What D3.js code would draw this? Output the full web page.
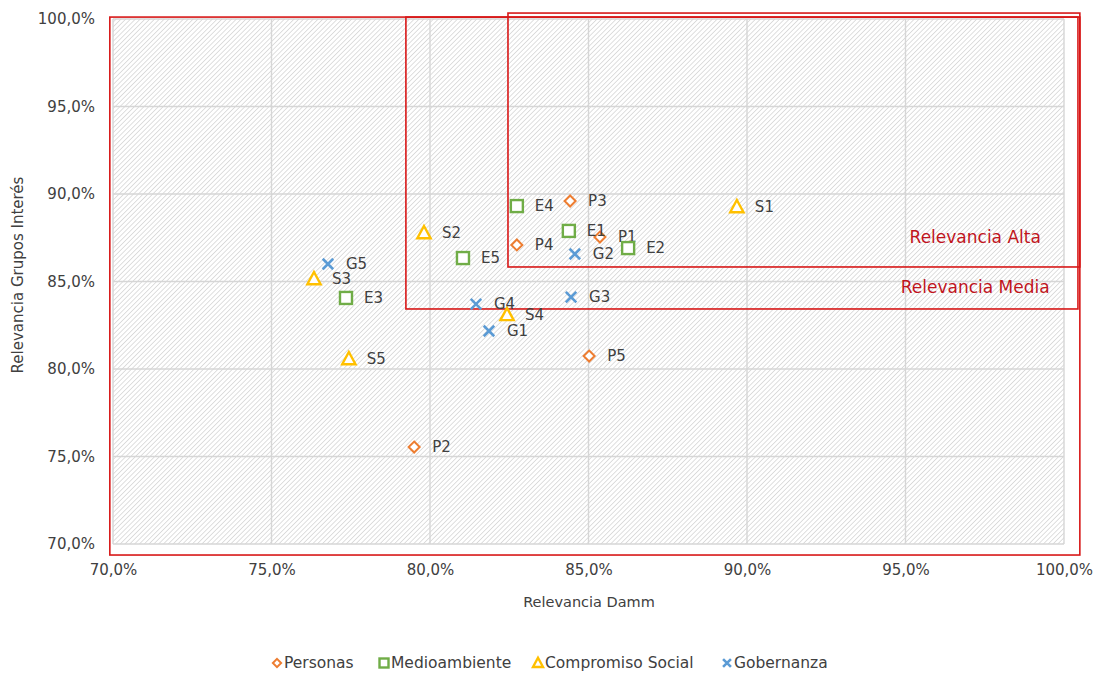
<!DOCTYPE html>
<html>
  <head>
    <meta charset="utf-8">
    <script src="https://d3js.org/d3.v7.min.js"></script>
    <title>Relevancia</title>
    <style>
      html, body { margin: 0; padding: 0; background: #fff; }
      svg { display: block; font-family: "DejaVu Sans", sans-serif; }
    </style>
  </head>
  <body>
    <svg id="chart" width="1101" height="675"></svg>
    <script>
      // datos (en %)
      var xTicks = [70, 75, 80, 85, 90, 95, 100];
      var yTicks = [70, 75, 80, 85, 90, 95, 100];

      var personasLbl = ["P1", "P2", "P3", "P4", "P5"];
      var personasX = [85.36, 79.50, 84.42, 82.74, 85.02];
      var personasY = [87.54, 75.54, 89.60, 87.09, 80.74];

      var medioLbl = ["E1", "E2", "E3", "E4", "E5"];
      var medioX = [84.38, 86.25, 77.35, 82.74, 81.04];
      var medioY = [87.89, 86.91, 84.06, 89.31, 86.34];

      var socialLbl = ["S1", "S2", "S3", "S4", "S5"];
      var socialX = [89.68, 79.81, 76.34, 82.43, 77.44];
      var socialY = [89.26, 87.77, 85.14, 83.09, 80.57];

      var gobLbl = ["G1", "G2", "G3", "G4", "G5"];
      var gobX = [81.86, 84.57, 84.45, 81.45, 76.78];
      var gobY = [82.17, 86.57, 84.11, 83.71, 86.00];

      // zonas (rectangulos rojos) en unidades de datos
      var zonaNombre = ["", "Relevancia Media", "Relevancia Alta"];
      var zonaX0 = [69.9, 79.24, 82.46];
      var zonaX1 = [100.5, 100.44, 100.5];
      var zonaY0 = [69.37, 83.43, 85.83];
      var zonaY1 = [100.11, 100.11, 100.34];
      var zonaLblX = [0, 97.2, 97.2];
      var zonaLblY = [0, 84.7, 87.55];

      var svg = d3.select("#chart");
      var pLeft = 113, pRight = 1064, pTop = 19, pBottom = 544;

      var x = d3.scaleLinear().domain([70, 100]).range([pLeft, pRight]);
      var y = d3.scaleLinear().domain([70, 100]).range([pBottom, pTop]);
      var fmt = function(v){ return d3.format(".1f")(v).replace(".", ",") + "%"; };

      // trama diagonal
      var defs = svg.append("defs");
      defs.append("pattern")
        .attr("id", "hatch")
        .attr("patternUnits", "userSpaceOnUse")
        .attr("width", 3.4).attr("height", 3.4)
        .attr("patternTransform", "rotate(45)")
        .append("line")
        .attr("x1", 0).attr("y1", 0).attr("x2", 0).attr("y2", 3.4)
        .style("stroke", "#c2c2c2").style("stroke-width", 1.05);

      svg.append("rect")
        .attr("x", pLeft).attr("y", pTop)
        .attr("width", pRight - pLeft).attr("height", pBottom - pTop)
        .style("fill", "url(#hatch)");

      // rejilla
      svg.append("g").selectAll("line").data(xTicks).enter().append("line")
        .attr("x1", d => x(d)).attr("x2", d => x(d))
        .attr("y1", pTop).attr("y2", pBottom)
        .style("stroke", "#d6d6d6").style("stroke-width", 1.4);
      svg.append("g").selectAll("line").data(yTicks).enter().append("line")
        .attr("y1", d => y(d)).attr("y2", d => y(d))
        .attr("x1", pLeft).attr("x2", pRight)
        .style("stroke", "#d6d6d6").style("stroke-width", 1.4);

      // ejes
      var xAxis = svg.append("g").attr("transform", "translate(0," + (pBottom + 16) + ")")
        .call(d3.axisBottom(x).tickValues(xTicks).tickFormat(fmt).tickSize(0));
      var yAxis = svg.append("g").attr("transform", "translate(" + (pLeft - 15) + ",0)")
        .call(d3.axisLeft(y).tickValues(yTicks).tickFormat(fmt).tickSize(0));
      [xAxis, yAxis].forEach(function(a){
        a.select(".domain").remove();
        a.selectAll("text")
          .style("font-family", "'DejaVu Sans', sans-serif")
          .style("font-size", "15px")
          .style("fill", "#404040");
      });
      xAxis.selectAll("text").attr("dy", "0.8em");

      svg.append("text")
        .attr("x", 589).attr("y", 607)
        .attr("text-anchor", "middle")
        .style("font-size", "14.5px").style("fill", "#404040")
        .text("Relevancia Damm");
      svg.append("text")
        .attr("transform", "translate(23,275) rotate(-90)")
        .attr("text-anchor", "middle")
        .style("font-size", "15px").style("fill", "#404040")
        .text("Relevancia Grupos Interés");

      // zonas
      var zonas = zonaNombre.map(function(n, i){
        return {name: n, x0: zonaX0[i], x1: zonaX1[i], y0: zonaY0[i], y1: zonaY1[i], lx: zonaLblX[i], ly: zonaLblY[i]};
      });
      svg.append("g").selectAll("rect").data(zonas).enter().append("rect")
        .attr("x", d => x(d.x0)).attr("y", d => y(d.y1))
        .attr("width", d => x(d.x1) - x(d.x0))
        .attr("height", d => y(d.y0) - y(d.y1))
        .style("fill", "none").style("stroke", "#d81818").style("stroke-width", 1.6);

      svg.append("g").selectAll("text").data(zonas.filter(d => d.name)).enter().append("text")
        .attr("x", d => x(d.lx))
        .attr("y", d => y(d.ly))
        .attr("dy", "0.35em")
        .attr("text-anchor", "middle")
        .style("font-size", "17px").style("fill", "#c0141c")
        .text(d => d.name);

      // series
      var series = [
        {name: "Personas", color: "#ED7D31", shape: "diamond", lbl: personasLbl, xs: personasX, ys: personasY},
        {name: "Medioambiente", color: "#70AD47", shape: "square", lbl: medioLbl, xs: medioX, ys: medioY},
        {name: "Compromiso Social", color: "#FFC000", shape: "triangle", lbl: socialLbl, xs: socialX, ys: socialY},
        {name: "Gobernanza", color: "#5B9BD5", shape: "cross", lbl: gobLbl, xs: gobX, ys: gobY}
      ];

      function marker(g, shape, color, s) {
        if (shape == "diamond") {
          g.append("path").attr("d", "M0," + (-s) + "L" + s + ",0L0," + s + "L" + (-s) + ",0Z")
            .style("fill", "#fff").style("stroke", color).style("stroke-width", 2);
        } else if (shape == "square") {
          g.append("rect").attr("x", -s).attr("y", -s).attr("width", 2 * s).attr("height", 2 * s)
            .style("fill", "#fff").style("stroke", color).style("stroke-width", 2.4);
        } else if (shape == "triangle") {
          g.append("path").attr("d", "M0," + (-s) + "L" + (s * 0.95) + "," + (s * 0.75) + "L" + (-s * 0.95) + "," + (s * 0.75) + "Z")
            .style("fill", "#fff").style("stroke", color).style("stroke-width", 2.4);
        } else {
          var c = s * 0.75;
          g.append("path").attr("d", "M" + (-c) + "," + (-c) + "L" + c + "," + c + "M" + c + "," + (-c) + "L" + (-c) + "," + c)
            .style("stroke", color).style("stroke-width", 2.6);
        }
      }
      var sizes = {diamond: 5.5, square: 6, triangle: 7, cross: 7};

      series.forEach(function(s){
        var pts = s.lbl.map(function(l, i){ return {lbl: l, x: s.xs[i], y: s.ys[i]}; });
        var g = svg.append("g").selectAll("g").data(pts).enter().append("g")
          .attr("transform", d => "translate(" + x(d.x) + "," + y(d.y) + ")");
        g.each(function(){ marker(d3.select(this), s.shape, s.color, sizes[s.shape]); });
        g.append("text")
          .attr("x", 18).attr("dy", "0.35em")
          .style("font-size", "15px").style("fill", "#404040")
          .text(d => d.lbl);
      });

      // leyenda
      var legX = [277, 384, 538, 727];
      var leg = svg.append("g").selectAll("g").data(series).enter().append("g")
        .attr("transform", (d, i) => "translate(" + legX[i] + ",663)");
      leg.each(function(d){ marker(d3.select(this), d.shape, d.color, sizes[d.shape] * 0.75); });
      leg.append("text")
        .attr("x", 7).attr("dy", "0.35em")
        .style("font-size", "15.5px").style("fill", "#404040")
        .text(d => d.name);
    </script>
  </body>
</html>
